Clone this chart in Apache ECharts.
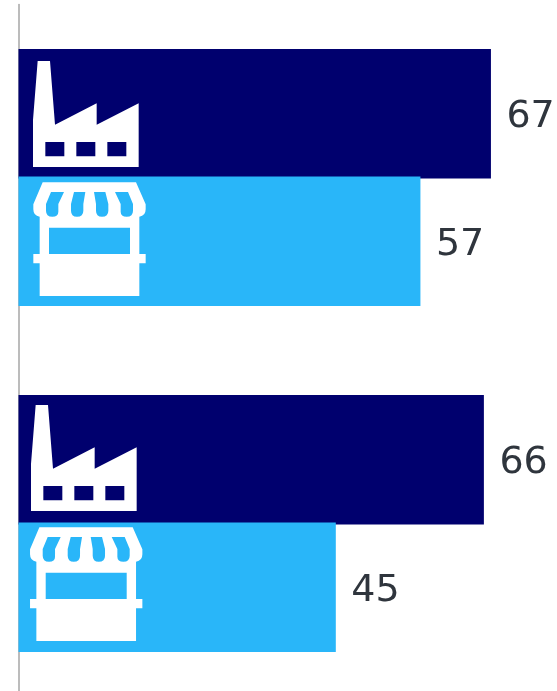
<!DOCTYPE html>
<html>
<head>
<meta charset="utf-8">
<style>
html,body{margin:0;padding:0;background:#fff;overflow:hidden}
#chart{width:557px;height:691px}
</style>
<script src="https://cdn.jsdelivr.net/npm/echarts@6/dist/echarts.min.js"></script>
</head>
<body>
<div id="chart"></div>
<script>
// Chart values
var categories = ['Group 1', 'Group 2'];
var manufacturers = [67, 66];
var retailers = [57, 45];

// Pictogram outlines, drawn at 3x and scaled down; holes wind the opposite way
var factoryPath =
  'M113 63 L150 63 L165 254 L290 190 L290 254 L416 190 L416 381 L99 381 L99 240 Z ' +
  'M136 306 L136 349 L193 349 L193 306 Z ' +
  'M229 306 L229 349 L286 349 L286 306 Z ' +
  'M322 306 L322 349 L379 349 L379 306 Z';

var shopPath =
  'M128 427 L408 427 L437 493 L437 508 Q437 528 418 530 L418 642 L437 642 L437 670 L418 670 ' +
  'L418 768 L119 768 L119 670 L100 670 L100 642 L119 642 L119 530 Q100 528 100 508 L100 493 Z ' +
  'M147 563 L147 642 L390 642 L390 563 Z ' +
  'M153 456 L138 492 L138 512 Q138 530 157 530 Q175 530 175 515 L175 492 L192 456 Z ' +
  'M222 456 L213 492 L213 512 Q213 530 231 530 Q250 530 250 512 L250 492 L256 456 Z ' +
  'M282 456 L288 492 L288 512 Q288 530 306 530 Q325 530 325 512 L325 492 L316 456 Z ' +
  'M345 456 L362 492 L362 515 Q362 530 380 530 Q399 530 399 512 L399 492 L384 456 Z';

// Small per-group placement corrections for each pictogram
var factoryShift = [[0, 0], [-2, -2]];
var shopShift = [[0, 0], [-3.3, -1]];

function pictogram(pathData, shift) {
  return function (params, api) {
    var i = api.value(1);
    var origin = api.coord([0, i]);
    return {
      type: 'path',
      x: origin[0] - 18.5 + shift[i][0],
      y: origin[1] - 137.5 + shift[i][1],
      scaleX: 1 / 3,
      scaleY: 1 / 3,
      shape: { pathData: pathData },
      style: { fill: '#ffffff' },
      silent: true
    };
  };
}

function barSeries(name, values, color) {
  return {
    name: name,
    type: 'bar',
    data: values,
    barWidth: 129.5,
    barGap: '-1.5%',
    itemStyle: { color: color },
    label: {
      show: true,
      position: 'right',
      distance: 15.5,
      offset: [0, 3.5],
      fontFamily: '"DejaVu Sans"',
      fontSize: 38,
      color: '#2f353d'
    },
    silent: true,
    animation: false
  };
}

function iconSeries(pathData, shift) {
  return {
    type: 'custom',
    coordinateSystem: 'cartesian2d',
    renderItem: pictogram(pathData, shift),
    data: categories.map(function (c, i) { return [0, i]; }),
    encode: { x: 0, y: 1 },
    clip: false,
    z: 5,
    silent: true,
    animation: false
  };
}

var chart = echarts.init(document.getElementById('chart'), null, { renderer: 'canvas' });
chart.setOption({
  animation: false,
  backgroundColor: '#ffffff',
  // The plot runs slightly past the bottom edge of the canvas
  grid: { left: 18.5, top: 4.5, width: 535.9, height: 692, containLabel: false, outerBoundsMode: 'none' },
  xAxis: {
    type: 'value',
    min: 0,
    max: 76,
    show: false
  },
  yAxis: {
    type: 'category',
    inverse: true,
    data: categories,
    axisLine: { show: true, lineStyle: { color: '#a6a6a6', width: 1.5 } },
    axisTick: { show: false },
    axisLabel: { show: false },
    splitLine: { show: false }
  },
  series: [
    barSeries('Manufacturers', manufacturers, '#00006e'),
    barSeries('Retailers', retailers, '#29b6f9'),
    iconSeries(factoryPath, factoryShift),
    iconSeries(shopPath, shopShift)
  ]
});
</script>
</body>
</html>
